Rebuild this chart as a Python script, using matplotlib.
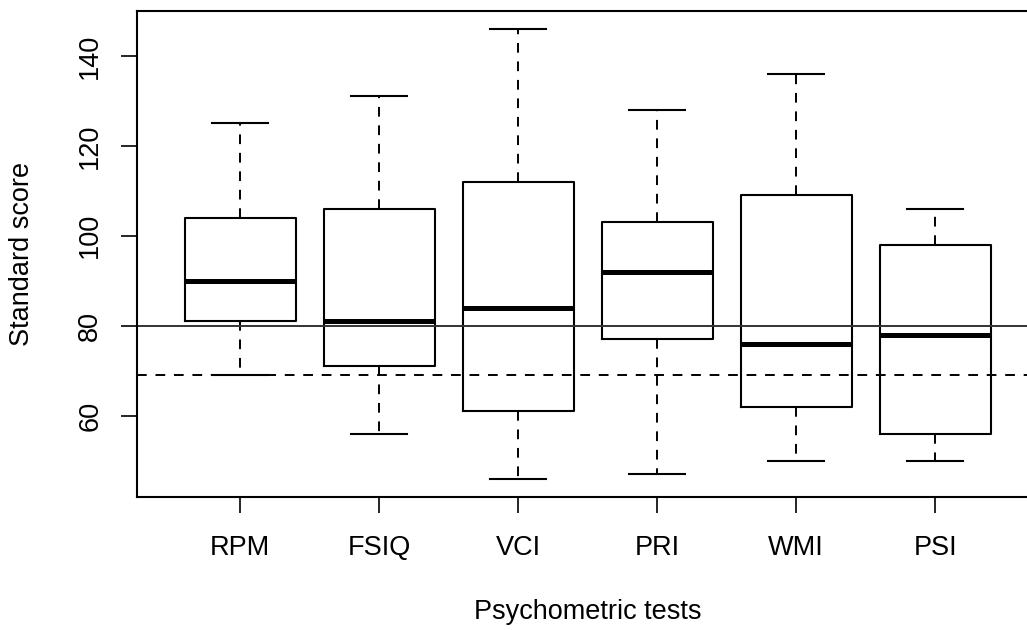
import matplotlib.pyplot as plt

plt.rcParams['font.family'] = ['Liberation Sans', 'DejaVu Sans']

tests = ['RPM', 'FSIQ', 'VCI', 'PRI', 'WMI', 'PSI']
whisker_low = [69, 56, 46, 47, 50, 50]
q1 = [81, 71, 61, 77, 62, 56]
median = [90, 81, 84, 92, 76, 78]
q3 = [104, 106, 112, 103, 109, 98]
whisker_high = [125, 131, 146, 128, 136, 106]
solid_ref = 80
dashed_ref = 69

fig = plt.figure(figsize=(10.27, 6.3), dpi=100)
ax = fig.add_axes([0.1337, 0.2116, 0.877, 0.771])

stats = []
for i in range(len(tests)):
    stats.append({'label': tests[i], 'whislo': whisker_low[i], 'q1': q1[i],
                  'med': median[i], 'q3': q3[i], 'whishi': whisker_high[i]})

pos = list(range(1, len(tests) + 1))
ax.bxp(stats, positions=pos, widths=0.8, showfliers=False, patch_artist=False,
       boxprops=dict(color='black', linewidth=1.5),
       medianprops=dict(color='black', linewidth=3.6, solid_capstyle='butt'),
       whiskerprops=dict(color='black', linewidth=1.4, linestyle=(0, (5, 4.5))),
       capprops=dict(color='black', linewidth=1.5))

ax.axhline(solid_ref, color='#333333', linewidth=1.4)
ax.axhline(dashed_ref, color='black', linewidth=1.4, linestyle=(0, (5, 4.5)))

ax.set_xlim(0.26, 6.74)
ax.set_ylim(42, 150)
ax.set_yticks([60, 80, 100, 120, 140])
ax.set_xticks(pos)
ax.set_xticklabels(tests)
for lab in ax.get_yticklabels():
    lab.set_rotation(90)
    lab.set_verticalalignment('center')

ax.tick_params(axis='both', length=11.5, width=1.2, labelsize=19.5)
ax.tick_params(axis='x', pad=16)
ax.tick_params(axis='y', pad=13)
for s in ax.spines.values():
    s.set_linewidth(1.5)

ax.set_xlabel('Psychometric tests', fontsize=19.5)
ax.set_ylabel('Standard score', fontsize=19.5)
ax.xaxis.set_label_coords(0.5, -0.237)
ax.xaxis.label.set_verticalalignment('center')
ax.yaxis.set_label_coords(-0.128, 0.5)
ax.yaxis.label.set_verticalalignment('center')

fig.savefig('out.png', dpi=100)
